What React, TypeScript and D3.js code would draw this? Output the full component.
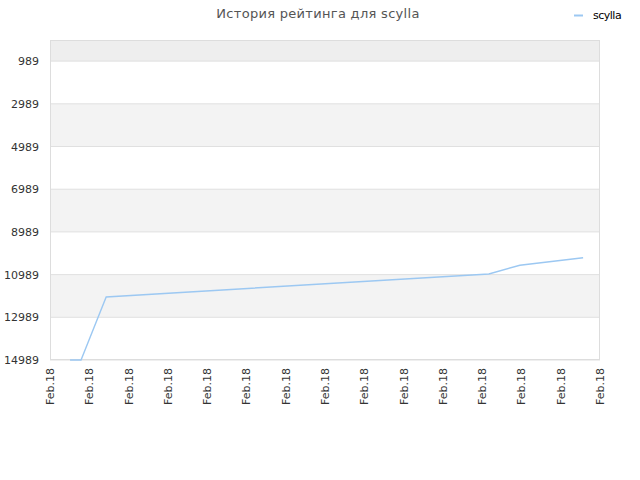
import React from 'react';
import * as d3 from 'd3';

const title = 'История рейтинга для scylla';
const seriesName = 'scylla';
const yTicks = [989, 2989, 4989, 6989, 8989, 10989, 12989, 14989];
const xTickLabels = Array.from({ length: 15 }, () => 'Feb.18');
// position in x-tick units, rating value
const pointX = [0.51, 0.79, 1.43, 11.17, 11.96, 13.57];
const pointY = [14989, 14989, 12035, 10960, 10550, 10200];

const W = 640;
const H = 480;
const margin = { top: 40, right: 40, bottom: 120, left: 50 };
const font = '"DejaVu Sans", Verdana, sans-serif';

export default function App() {
  const innerW = W - margin.left - margin.right;
  const innerH = H - margin.top - margin.bottom;

  const x = d3.scaleLinear().domain([0, xTickLabels.length - 1]).range([0, innerW]);
  const y = d3.scaleLinear().domain([0, 14989]).range([0, innerH]);

  const pts = pointX.map((px, i) => [px, pointY[i]] as [number, number]);
  const line = d3.line<[number, number]>()
    .x(d => x(d[0]))
    .y(d => y(d[1]));

  // alternating bands
  const bands: { from: number; to: number; fill: string }[] = [
    { from: 0, to: yTicks[0], fill: '#eeeeee' },
  ];
  for (let i = 1; i < yTicks.length - 1; i += 2) {
    bands.push({ from: yTicks[i], to: yTicks[i + 1], fill: '#f3f3f3' });
  }

  return (
    <svg width={W} height={H} style={{ position: 'absolute', left: 0, top: 0, background: '#fff' }}>
      <text x={318} y={18} textAnchor="middle" fontFamily={font} fontSize={13} fill="#555" letterSpacing={0.3}>
        {title}
      </text>
      <g transform="translate(574,15)">
        <line x1={0} x2={9} y1={0.5} y2={0.5} stroke="#9cc8f2" strokeWidth={2} />
        <text x={19} y={4} fontFamily={font} fontSize={11} fill="#000" letterSpacing={-0.5}>{seriesName}</text>
      </g>
      <g transform={`translate(${margin.left},${margin.top})`}>
        {bands.map((b, i) => (
          <rect key={i} x={0} y={y(b.from)} width={innerW} height={y(b.to) - y(b.from)} fill={b.fill} />
        ))}
        {yTicks.map(t => (
          <g key={t}>
            <line x1={0} x2={innerW} y1={y(t)} y2={y(t)} stroke="#e0e0e0" />
            <text x={-11} y={y(t) + 4} textAnchor="end" fontFamily={font} fontSize={11} fill="#333">{t}</text>
          </g>
        ))}
        <rect x={0.5} y={0.5} width={innerW - 1} height={innerH - 1} fill="none" stroke="#dddddd" />
        {xTickLabels.map((lab, i) => (
          <text
            key={i}
            transform={`translate(${x(i) + 4},${innerH + 8}) rotate(-90)`}
            textAnchor="end"
            fontFamily={font}
            fontSize={11}
            fill="#333"
          >
            {lab}
          </text>
        ))}
        <path d={line(pts) ?? ''} fill="none" stroke="#9cc8f2" strokeWidth={1.4} />
      </g>
    </svg>
  );
}
